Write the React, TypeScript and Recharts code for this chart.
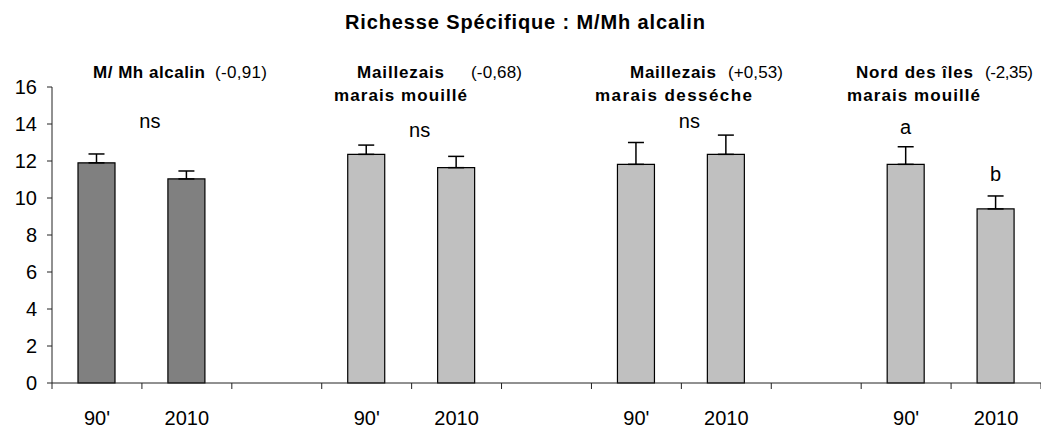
import React from "react";
import { BarChart, Bar, XAxis, YAxis, ErrorBar, Cell, LabelList } from "recharts";

const periods = ["90'", "2010"];
const groupTitles = ["M/ Mh alcalin", "Maillezais", "Maillezais", "Nord des îles"];
const groupSubtitles = ["", "marais mouillé", "marais desséche", "marais mouillé"];
const groupChanges = ["(-0,91)", "(-0,68)", "(+0,53)", "(-2,35)"];
const means90 = [11.9, 12.36, 11.82, 11.82];
const means2010 = [11.03, 11.64, 12.36, 9.41];
const err90 = [0.48, 0.5, 1.18, 0.95];
const err2010 = [0.43, 0.61, 1.04, 0.7];
const signif90 = ["", "", "", "a"];
const signif2010 = ["", "", "", "b"];
const groupNs = ["ns", "ns", "ns", ""];
const yTicks = [0, 2, 4, 6, 8, 10, 12, 14, 16];

// text layout of the group captions (start x, width)
const titleX = [93, 357, 630, 856];
const titleW = [112, 87, 86, 117];
const changeX = [215, 471, 728, 985];
const changeW = [52, 51, 55, 48];
const subX = [0, 334, 595, 847];
const subW = [0, 133, 157, 133];

const W = 1041;
const H = 428;
const M = { top: 87, right: 0, bottom: 0, left: 0 };
const Y_W = 52;
const X_H = 45;
const FONT = "'Liberation Sans', Arial, sans-serif";

type Row = { name: string; value: number | null; err: number[] | null; group: number; sig: string };
const data: Row[] = [];
groupTitles.forEach((_, g) => {
  if (g > 0) data.push({ name: "", value: null, err: null, group: g, sig: "" });
  data.push({ name: periods[0], value: means90[g], err: [0, err90[g]], group: g, sig: signif90[g] });
  data.push({ name: periods[1], value: means2010[g], err: [0, err2010[g]], group: g, sig: signif2010[g] });
});

const band = (W - M.left - M.right - Y_W) / data.length;
const plotH = H - M.top - M.bottom - X_H;

const XTick = (props: any) => {
  const { x, y, payload, index } = props;
  const last = index === data.length - 1;
  return (
    <g>
      <line x1={x - band / 2} x2={x - band / 2} y1={y} y2={y + 6} stroke="#222" />
      {last && <line x1={x + band / 2} x2={x + band / 2} y1={y} y2={y + 6} stroke="#222" />}
      <text x={x} y={y + 42} textAnchor="middle" fontSize={20} fontFamily={FONT} fill="#000">
        {payload.value}
      </text>
    </g>
  );
};

const SigLabel = (props: any) => {
  const { x, y, width, value, index } = props;
  if (!value) return null;
  const row = data[index];
  const e = row.err ? row.err[1] : 0;
  const yTop = y - (e / 16) * plotH;
  return (
    <text x={x + width / 2} y={yTop - 9} textAnchor="middle" fontSize={20} fontFamily={FONT} fill="#000">
      {value}
    </text>
  );
};

const xCenter = (i: number) => M.left + Y_W + band * (i + 0.5);

export default function App() {
  return (
    <div style={{ position: "absolute", left: 0, top: 0, width: W, height: H, background: "#fff" }}>
      <BarChart width={W} height={H} data={data} margin={M} barSize={37}>
        <XAxis
          dataKey="name"
          height={X_H}
          tickLine={false}
          tickSize={0}
          tickMargin={0}
          interval={0}
          axisLine={{ stroke: "#222" }}
          tick={<XTick />}
        />
        <YAxis
          width={Y_W}
          domain={[0, 16]}
          ticks={yTicks}
          interval={0}
          tickSize={5}
          tickMargin={10}
          axisLine={{ stroke: "#222" }}
          tickLine={{ stroke: "#222" }}
          tick={{ fontSize: 20, fontFamily: FONT, fill: "#000" }}
        />
        <Bar dataKey="value" stroke="#000" strokeWidth={1.2} isAnimationActive={false}>
          {data.map((d, i) => (
            <Cell key={i} fill={d.group === 0 ? "#808080" : "#c0c0c0"} />
          ))}
          <ErrorBar dataKey="err" width={8} stroke="#000" strokeWidth={1.5} direction="y" isAnimationActive={false} />
          <LabelList dataKey="sig" content={<SigLabel />} />
        </Bar>
      </BarChart>
      <svg width={W} height={H} style={{ position: "absolute", left: 0, top: 0, pointerEvents: "none" }} fontFamily={FONT}>
        <text x={345} y={29} fontSize={20} fontWeight="bold" textLength={360} lengthAdjust="spacing">
          Richesse Spécifique : M/Mh alcalin
        </text>
        {groupTitles.map((t, g) => {
          const i0 = g * 3;
          const cx = (xCenter(i0) + xCenter(i0 + 1)) / 2;
          return (
            <g key={g}>
              <text x={titleX[g]} y={78} fontSize={17} fontWeight="bold" textLength={titleW[g]} lengthAdjust="spacing">
                {t}
              </text>
              <text x={changeX[g]} y={78} fontSize={17} textLength={changeW[g]} lengthAdjust="spacing">
                {groupChanges[g]}
              </text>
              {groupSubtitles[g] && (
                <text x={subX[g]} y={101} fontSize={17} fontWeight="bold" textLength={subW[g]} lengthAdjust="spacing">
                  {groupSubtitles[g]}
                </text>
              )}
              {groupNs[g] && (
                <text x={cx + 8} y={g === 1 ? 137 : 128} textAnchor="middle" fontSize={20}>
                  {groupNs[g]}
                </text>
              )}
            </g>
          );
        })}
      </svg>
    </div>
  );
}
